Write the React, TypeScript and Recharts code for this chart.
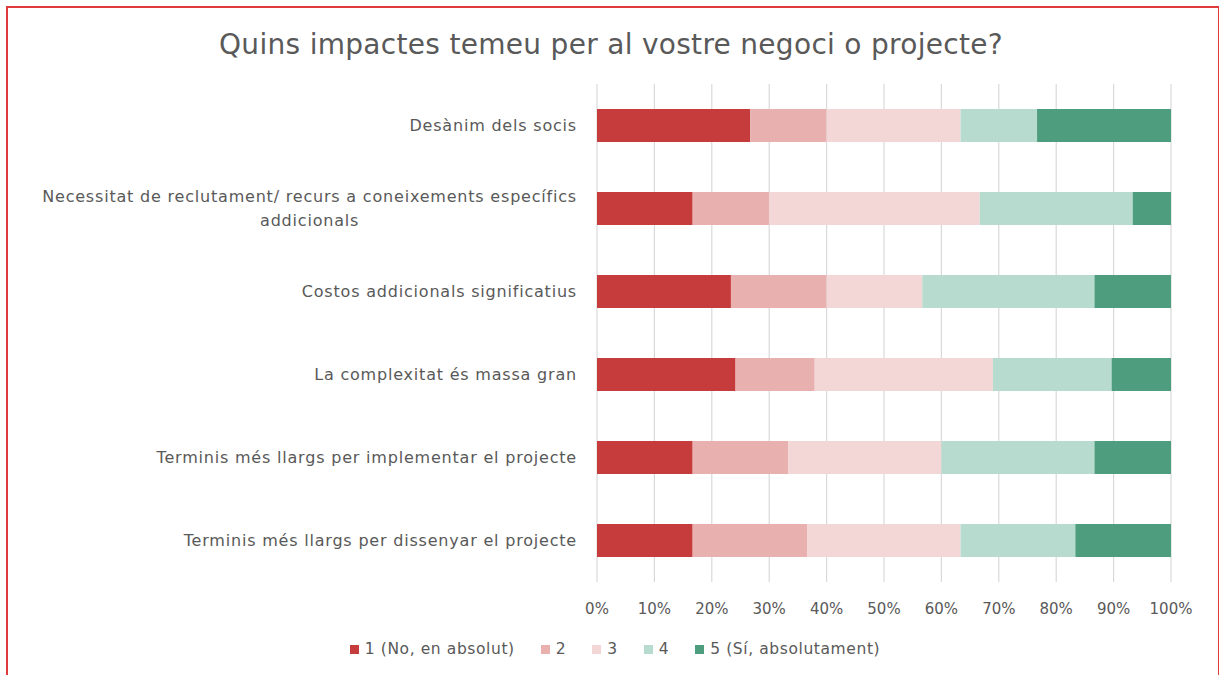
import React from 'react';
import { BarChart, Bar, XAxis, YAxis, CartesianGrid, Legend } from 'recharts';

const FONT = '"DejaVu Sans", sans-serif';
const TEXT = '#595959';

const categories = [
  'Desànim dels socis',
  'Necessitat de reclutament/ recurs a coneixements específics addicionals',
  'Costos addicionals significatius',
  'La complexitat és massa gran',
  'Terminis més llargs per implementar el projecte',
  'Terminis més llargs per dissenyar el projecte',
];

// nombre de respostes per nivell (es mostren en % amb stackOffset="expand")
const nivell1 = [8, 5, 7, 7, 5, 5];
const nivell2 = [4, 4, 5, 4, 5, 6];
const nivell3 = [7, 11, 5, 9, 8, 8];
const nivell4 = [4, 8, 9, 6, 8, 6];
const nivell5 = [7, 2, 4, 3, 4, 5];

const seriesNames = ['1 (No, en absolut)', '2', '3', '4', '5 (Sí, absolutament)'];
const seriesColors = ['#C63B3B', '#E8B1B0', '#F3D7D7', '#B7DBCF', '#4D9D7E'];
const xTicks = [0, 0.1, 0.2, 0.3, 0.4, 0.5, 0.6, 0.7, 0.8, 0.9, 1];

const data = categories.map((name, i) => ({
  name,
  s1: nivell1[i],
  s2: nivell2[i],
  s3: nivell3[i],
  s4: nivell4[i],
  s5: nivell5[i],
}));

const keys = ['s1', 's2', 's3', 's4', 's5'];

const LABEL_SIZE = 16;
const LABEL_SPACING = 0.8;

let ctx: CanvasRenderingContext2D | null = null;
function measure(text: string, size: number, spacing: number) {
  if (!ctx) ctx = document.createElement('canvas').getContext('2d');
  if (!ctx) return text.length * (size * 0.55 + spacing);
  ctx.font = `${size}px ${FONT}`;
  return ctx.measureText(text).width + text.length * spacing;
}

function wrap(text: string, maxChars: number) {
  const words = text.split(' ');
  const lines: string[] = [];
  let cur = '';
  words.forEach((w) => {
    const next = cur ? cur + ' ' + w : w;
    if (next.length > maxChars && cur) {
      lines.push(cur);
      cur = w;
    } else cur = next;
  });
  if (cur) lines.push(cur);
  return lines;
}

const CategoryTick = (props: any) => {
  const { x, y, payload } = props;
  const lines = wrap(payload.value, 60);
  const common = { fill: TEXT, fontSize: LABEL_SIZE, fontFamily: FONT, letterSpacing: LABEL_SPACING };
  if (lines.length === 1) {
    return (
      <text x={x} y={y} dy="0.35em" textAnchor="end" {...common}>
        {lines[0]}
      </text>
    );
  }
  const w = Math.max(...lines.map((l) => measure(l, LABEL_SIZE, LABEL_SPACING)));
  const lh = 24;
  const top = y - ((lines.length - 1) * lh) / 2;
  return (
    <text textAnchor="middle" {...common}>
      {lines.map((l, i) => (
        <tspan key={i} x={x - w / 2} y={top + i * lh} dy="0.35em">
          {l}
        </tspan>
      ))}
    </text>
  );
};

const renderLegend = () => (
  <div
    style={{
      display: 'flex',
      justifyContent: 'center',
      fontFamily: FONT,
      fontSize: 15.5,
      letterSpacing: 0.6,
      color: TEXT,
    }}
  >
    {seriesNames.map((n, i) => (
      <div
        key={n}
        style={{ display: 'flex', alignItems: 'center', marginRight: i < seriesNames.length - 1 ? 26 : 0 }}
      >
        <span style={{ width: 9, height: 9, background: seriesColors[i], marginRight: 6, display: 'inline-block' }} />
        <span>{n}</span>
      </div>
    ))}
  </div>
);

export default function App() {
  return (
    <div style={{ position: 'relative', width: 1219, height: 675, overflow: 'hidden', background: '#fff' }}>
      <style>{'html,body{margin:0;padding:0;overflow:hidden;background:#fff}'}</style>
      <svg
        width={1219}
        height={675}
        style={{ position: 'absolute', left: 0, top: 0, zIndex: 5, pointerEvents: 'none' }}
      >
        <rect x={7} y={7} width={1212} height={672} fill="none" stroke="#DD3B3C" strokeWidth={2} />
      </svg>
      <div
        style={{
          position: 'absolute',
          top: 28,
          left: 0,
          width: 1222,
          textAlign: 'center',
          fontFamily: FONT,
          fontSize: 28,
          letterSpacing: 0.3,
          color: TEXT,
        }}
      >
        Quins impactes temeu per al vostre negoci o projecte?
      </div>
      <div style={{ position: 'absolute', left: 0, top: 0 }}>
        <BarChart
          width={1219}
          height={675}
          data={data}
          layout="vertical"
          stackOffset="expand"
          barSize={33}
          margin={{ top: 84, right: 48, bottom: 15, left: 0 }}
        >
          <CartesianGrid horizontal={false} stroke="#D9D9D9" strokeWidth={1.2} />
          <XAxis
            type="number"
            domain={[0, 1]}
            ticks={xTicks}
            tickFormatter={(v: number) => `${Math.round(v * 100)}%`}
            axisLine={false}
            tickLine={false}
            tickMargin={15}
            height={58}
            tick={{ fill: TEXT, fontSize: 15, fontFamily: FONT }}
          />
          <YAxis
            type="category"
            dataKey="name"
            width={597}
            axisLine={false}
            tickLine={false}
            tickMargin={14}
            tick={<CategoryTick />}
            interval={0}
          />
          <Legend verticalAlign="bottom" height={20} content={renderLegend} wrapperStyle={{ left: 0, width: 1230 }} />
          {keys.map((k, i) => (
            <Bar key={k} dataKey={k} name={seriesNames[i]} stackId="a" fill={seriesColors[i]} isAnimationActive={false} />
          ))}
        </BarChart>
      </div>
    </div>
  );
}
